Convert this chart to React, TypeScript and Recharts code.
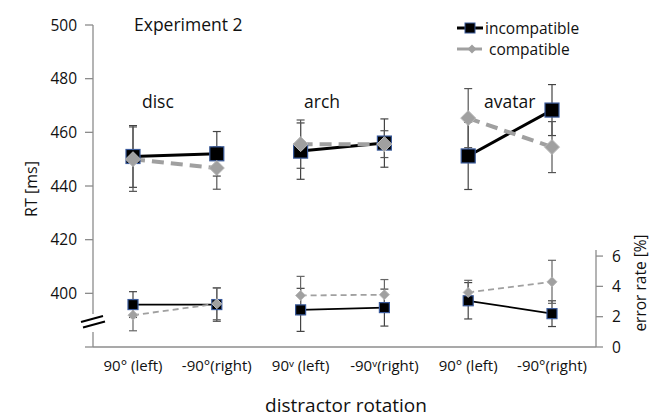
import React from 'react';
import { ComposedChart, Line, XAxis, YAxis, ErrorBar } from 'recharts';

const FONT = "'Open Sans', 'Noto Sans', sans-serif";

const categories = ['disc-left', 'disc-right', 'arch-left', 'arch-right', 'avatar-left', 'avatar-right'];
const tickLabels = ['90° (left)', '-90°(right)', '90ᵛ (left)', '-90ᵛ(right)', '90° (left)', '-90°(right)'];
const groupOf = ['disc', 'disc', 'arch', 'arch', 'avatar', 'avatar'];
const groupNames = ['disc', 'arch', 'avatar'];

const rtIncompatible = [451, 452, 453, 456, 451.2, 468.3];
const rtIncompatibleErr = [11.5, 8.3, 10.5, 9, 12.5, 9.5];
const rtCompatible = [450, 446.7, 455.6, 455.6, 465.3, 454.5];
const rtCompatibleErr = [12, 7.9, 9, 5, 11, 9.5];

const erIncompatible = [2.8, 2.8, 2.45, 2.6, 3.05, 2.2];
const erIncompatibleErr = [0.85, 1.1, 1.42, 1.22, 1.2, 0.85];
const erCompatible = [2.1, 2.85, 3.4, 3.45, 3.6, 4.3];
const erCompatibleErr = [1.03, 1.05, 1.26, 1.0, 0.8, 1.42];

const rtTicks = [380, 400, 420, 440, 460, 480, 500];
const erTicks = [0, 2, 4, 6];

const series: Record<string, number[]> = {
  rtInc: rtIncompatible,
  rtIncErr: rtIncompatibleErr,
  rtComp: rtCompatible,
  rtCompErr: rtCompatibleErr,
  erInc: erIncompatible,
  erIncErr: erIncompatibleErr,
  erComp: erCompatible,
  erCompErr: erCompatibleErr,
};

const data = categories.map((cat, i) => {
  const row: Record<string, any> = { cat };
  groupNames.forEach((g) => {
    Object.keys(series).forEach((k) => {
      row[`${k}_${g}`] = groupOf[i] === g ? series[k][i] : null;
    });
  });
  return row;
});

const square = (size: number) => (props: any) => {
  const { cx, cy, index, value } = props;
  if (cx == null || cy == null || value == null) return <g key={`sq-${index}`} />;
  return (
    <rect
      key={`sq-${index}`}
      x={cx - size / 2}
      y={cy - size / 2}
      width={size}
      height={size}
      fill="#000"
      stroke="#3a5a9a"
      strokeWidth={1.2}
    />
  );
};

const diamond = (size: number) => (props: any) => {
  const { cx, cy, index, value } = props;
  if (cx == null || cy == null || value == null) return <g key={`dm-${index}`} />;
  const h = size / 2;
  return (
    <polygon
      key={`dm-${index}`}
      points={`${cx},${cy - h} ${cx + h},${cy} ${cx},${cy + h} ${cx - h},${cy}`}
      fill="#a0a0a0"
      stroke="#b8b8b8"
      strokeWidth={1}
    />
  );
};

const axisStroke = '#8c8c8c';
const tickStyle = { fill: '#111', fontSize: 15.5, fontFamily: FONT };
const xPadding = { left: 40, right: 44 };

export default function App() {
  return (
    <div style={{ position: 'absolute', left: 0, top: 0, width: 656, height: 417, background: '#fff' }}>
      <div style={{ position: 'absolute', left: 0, top: 0 }}>
        <ComposedChart width={656} height={417} data={data} margin={{ top: 25, right: 60, bottom: 40, left: 33 }}>
          <XAxis
            dataKey="cat"
            interval={0}
            padding={xPadding}
            tickLine={false}
            axisLine={{ stroke: axisStroke, strokeWidth: 1.3 }}
            tick={{ ...tickStyle, fontSize: 15 }}
            tickFormatter={(_v: any, i: number) => tickLabels[i]}
            height={30}
            tickMargin={7}
          />
          <YAxis
            domain={[380, 500]}
            ticks={rtTicks}
            interval={0}
            width={60}
            tickSize={8}
            tickMargin={8}
            axisLine={{ stroke: axisStroke, strokeWidth: 1.3 }}
            tickLine={{ stroke: axisStroke, strokeWidth: 1.3 }}
            tick={tickStyle}
            tickFormatter={(v: number) => (v === 380 ? '' : String(v))}
          />
          {groupNames.map((g) => (
            <Line
              key={`rtInc-${g}`}
              dataKey={`rtInc_${g}`}
              stroke="#000"
              strokeWidth={3}
              dot={square(14)}
              activeDot={false}
              isAnimationActive={false}
              connectNulls={false}
            >
              <ErrorBar dataKey={`rtIncErr_${g}`} width={4} stroke="#444" strokeWidth={1.2} direction="y" />
            </Line>
          ))}
          {groupNames.map((g) => (
            <Line
              key={`rtComp-${g}`}
              dataKey={`rtComp_${g}`}
              stroke="#a0a0a0"
              strokeWidth={4}
              strokeDasharray="12 7"
              dot={diamond(15)}
              activeDot={false}
              isAnimationActive={false}
              connectNulls={false}
            >
              <ErrorBar dataKey={`rtCompErr_${g}`} width={4} stroke="#555" strokeWidth={1.2} direction="y" />
            </Line>
          ))}
        </ComposedChart>
      </div>
      <div style={{ position: 'absolute', left: 0, top: 0 }}>
        <ComposedChart width={656} height={417} data={data} margin={{ top: 250, right: 0, bottom: 70, left: 93 }}>
          <XAxis dataKey="cat" hide padding={xPadding} />
          <YAxis
            orientation="right"
            domain={[0, 6.4]}
            ticks={erTicks}
            interval={0}
            width={60}
            tickSize={7}
            tickMargin={9}
            axisLine={{ stroke: axisStroke, strokeWidth: 1.3 }}
            tickLine={{ stroke: axisStroke, strokeWidth: 1.3 }}
            tick={tickStyle}
          />
          {groupNames.map((g) => (
            <Line
              key={`erInc-${g}`}
              dataKey={`erInc_${g}`}
              stroke="#000"
              strokeWidth={1.8}
              dot={square(10)}
              activeDot={false}
              isAnimationActive={false}
              connectNulls={false}
            >
              <ErrorBar dataKey={`erIncErr_${g}`} width={4} stroke="#444" strokeWidth={1.2} direction="y" />
            </Line>
          ))}
          {groupNames.map((g) => (
            <Line
              key={`erComp-${g}`}
              dataKey={`erComp_${g}`}
              stroke="#a0a0a0"
              strokeWidth={1.8}
              strokeDasharray="6 4"
              dot={diamond(10)}
              activeDot={false}
              isAnimationActive={false}
              connectNulls={false}
            >
              <ErrorBar dataKey={`erCompErr_${g}`} width={4} stroke="#666" strokeWidth={1.2} direction="y" />
            </Line>
          ))}
        </ComposedChart>
      </div>
      <svg
        width={656}
        height={417}
        style={{ position: 'absolute', left: 0, top: 0, pointerEvents: 'none' }}
        fontFamily={FONT}
      >
        <rect x={88} y={314} width={10} height={18} fill="#fff" />
        <line x1={81} y1={322} x2={103} y2={316} stroke="#000" strokeWidth={2} />
        <line x1={83} y1={327.5} x2={105} y2={321.5} stroke="#000" strokeWidth={2} />

        <text x={134} y={31} fontSize={17.5} fill="#111">Experiment 2</text>
        <text x={142} y={108} fontSize={17.5} fill="#111">disc</text>
        <text x={304} y={108} fontSize={17.5} fill="#111">arch</text>
        <text x={484} y={108} fontSize={17.5} fill="#111">avatar</text>

        <text
          x={0}
          y={0}
          fontSize={16}
          fill="#111"
          textAnchor="middle"
          dominantBaseline="central"
          transform="translate(31,189) rotate(-90)"
        >
          RT [ms]
        </text>
        <text
          x={0}
          y={0}
          fontSize={15.5}
          fill="#111"
          textAnchor="middle"
          dominantBaseline="central"
          transform="translate(640,283) rotate(-90)"
        >
          error rate [%]
        </text>
        <text x={346} y={412} fontSize={19} fill="#111" textAnchor="middle">distractor rotation</text>

        <line x1={457} y1={28} x2={483} y2={28} stroke="#000" strokeWidth={3} />
        <rect x={465} y={23} width={10} height={10} fill="#000" stroke="#3a5a9a" strokeWidth={1} />
        <text x={485} y={33.5} fontSize={15.5} fill="#111">incompatible</text>
        <line x1={457} y1={49} x2={482} y2={49} stroke="#a0a0a0" strokeWidth={3} />
        <polygon points="472,44.5 476.5,49 472,53.5 467.5,49" fill="#a0a0a0" />
        <text x={489} y={54.5} fontSize={15.5} fill="#111">compatible</text>
      </svg>
    </div>
  );
}
